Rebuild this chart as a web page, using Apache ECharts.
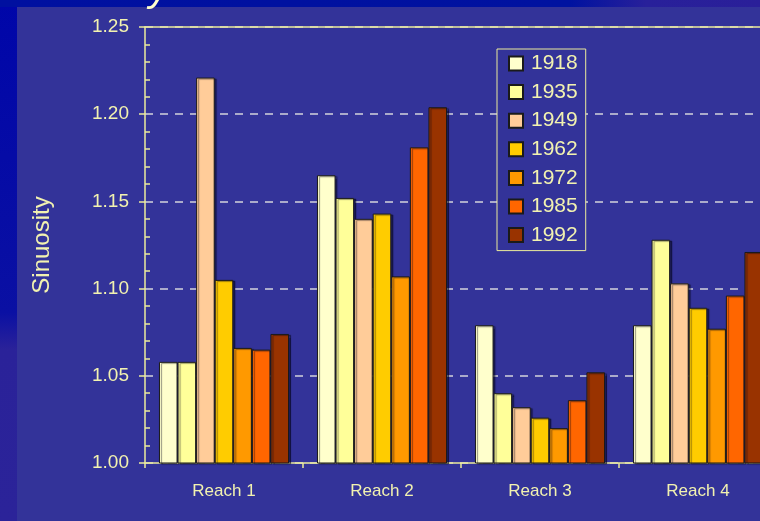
<!DOCTYPE html>
<html>
<head>
<meta charset="utf-8">
<script src="https://cdn.jsdelivr.net/npm/echarts@6/dist/echarts.min.js"></script>
<style>
  html, body { margin: 0; padding: 0; width: 760px; height: 521px; overflow: hidden; }
  body {
    position: relative;
    background: linear-gradient(to bottom, #0006a9 0%, #0a10a3 60%, #2a2299 67%, #2b2399 100%);
  }
  #topband {
    position: absolute; left: 0; top: 0; width: 760px; height: 7px;
    background: linear-gradient(to right, #0010a0 0%, #0012a0 75%, #28209a 85%, #2a1f99 100%);
  }
  #panel {
    position: absolute; left: 17px; top: 7px; width: 743px; height: 514px;
    background: #333399;
  }
  #chart { position: absolute; left: 0; top: 0; width: 800px; height: 521px; }
</style>
</head>
<body>
<div id="topband"></div>
<div id="panel"></div>
<div id="chart"></div>
<script>
// Channel sinuosity by reach for each survey year
const reaches = ['Reach 1', 'Reach 2', 'Reach 3', 'Reach 4'];
const years = ['1918', '1935', '1949', '1962', '1972', '1985', '1992'];

const s1918 = [1.058, 1.165, 1.079, 1.079];
const s1935 = [1.058, 1.152, 1.040, 1.128];
const s1949 = [1.221, 1.140, 1.032, 1.103];
const s1962 = [1.105, 1.143, 1.026, 1.089];
const s1972 = [1.066, 1.107, 1.020, 1.077];
const s1985 = [1.065, 1.181, 1.036, 1.096];
const s1992 = [1.074, 1.204, 1.052, 1.121];

const yTicks = ['1.00', '1.05', '1.10', '1.15', '1.20', '1.25'];

const yearValues = [s1918, s1935, s1949, s1962, s1972, s1985, s1992];
const yearColors = ['#ffffcc', '#ffff99', '#ffcc99', '#ffcc00', '#ff9900', '#ff6600', '#993300'];

const ink = '#f2f2b0';
const axisInk = '#ecec9c';
const font = 'Liberation Sans, Arial, sans-serif';

const chart = echarts.init(document.getElementById('chart'), null, { renderer: 'canvas' });

const series = years.map((y, i) => ({
  name: y,
  type: 'bar',
  xAxisIndex: 0,
  yAxisIndex: 0,
  data: yearValues[i],
  barGap: '0%',
  barCategoryGap: '17.7%',
  itemStyle: {
    color: yearColors[i],
    borderColor: '#1a1a1a',
    borderWidth: 1,
    shadowColor: 'rgba(0,0,20,0.45)',
    shadowBlur: 1,
    shadowOffsetX: 2,
    shadowOffsetY: 1
  },
  emphasis: { disabled: true }
}));

chart.setOption({
  backgroundColor: 'transparent',
  animation: false,
  textStyle: { fontFamily: font },
  grid: { left: 145, top: 27, right: 23, bottom: 58, containLabel: false },
  legend: {
    orient: 'vertical',
    left: 497,
    top: 49,
    data: years,
    icon: 'rect',
    itemWidth: 14,
    itemHeight: 14,
    itemGap: 7.6,
    padding: [4, 8, 5, 11],
    backgroundColor: '#333399',
    borderColor: axisInk,
    borderWidth: 1,
    textStyle: { color: ink, fontSize: 21, fontFamily: font, padding: [0, 0, 0, 3] },
    selectedMode: false
  },
  xAxis: [{
    type: 'category',
    data: reaches,
    position: 'bottom',
    axisLine: { lineStyle: { color: axisInk, width: 1.5 } },
    axisTick: { show: true, length: 5, lineStyle: { color: axisInk, width: 1.5 } },
    axisLabel: { color: ink, fontSize: 17, margin: 20, fontFamily: font }
  }, {
    type: 'category',
    data: reaches,
    position: 'top',
    axisLine: { show: true, lineStyle: { color: axisInk, width: 1.5 } },
    axisTick: { show: false },
    axisLabel: { show: false }
  }],
  yAxis: [{
    type: 'value',
    min: 1.0,
    max: 1.25,
    interval: 0.05,
    name: 'Sinuosity',
    nameLocation: 'middle',
    nameGap: 91,
    nameTextStyle: { color: ink, fontSize: 24, fontFamily: font },
    axisLine: { show: true, lineStyle: { color: axisInk, width: 1.5 } },
    axisTick: { show: true, length: 6, lineStyle: { color: axisInk, width: 1.5 } },
    axisLabel: {
      color: ink, fontSize: 19, margin: 16, fontFamily: font,
      formatter: v => yTicks[Math.round((v - 1) / 0.05)]
    },
    splitLine: { show: true, lineStyle: { color: '#d4d4dc', width: 1.5, type: [8, 7] } }
  }, {
    type: 'value',
    min: 1.0,
    max: 1.25,
    interval: 0.05,
    position: 'left',
    axisLine: { show: false },
    axisTick: { show: false, inside: true },
    axisLabel: { show: false },
    splitLine: { show: false },
    minorTick: { show: true, splitNumber: 5, length: 5, lineStyle: { color: axisInk, width: 1.5 } },
    minorSplitLine: { show: false }
  }],
  graphic: [{
    type: 'text',
    left: 149,
    top: -30,
    silent: true,
    z: 100,
    style: { text: 'y', fill: '#ffffcc', font: 'italic 40px Liberation Sans, Arial, sans-serif' }
  }],
  series: series
});
</script>
</body>
</html>
